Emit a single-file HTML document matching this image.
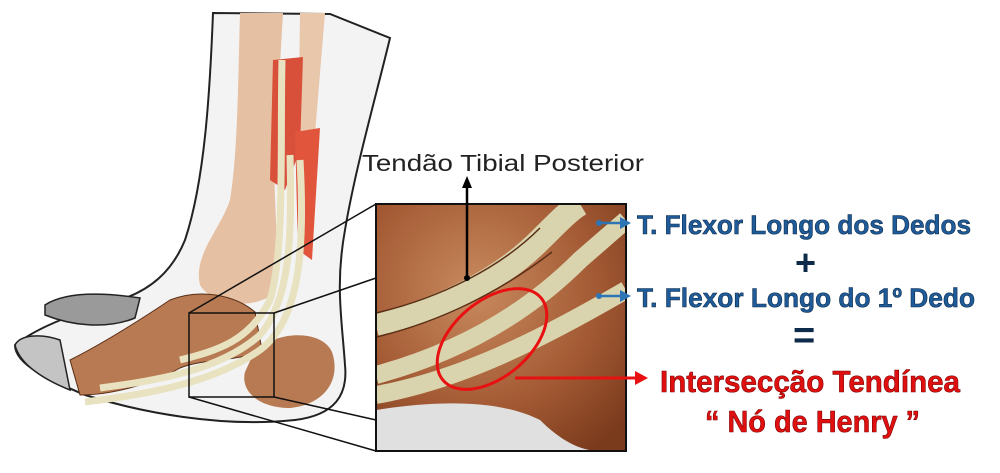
<!DOCTYPE html>
<html><head><meta charset="utf-8"><style>
html,body{margin:0;padding:0;background:#fff;}
svg{display:block}
text{font-family:"Liberation Sans",sans-serif;}
</style></head><body>
<svg width="1000" height="473" viewBox="0 0 1000 473" xmlns="http://www.w3.org/2000/svg">
<defs>
<radialGradient id="bg" cx="0.4" cy="0.35" r="0.8"><stop offset="0" stop-color="#c98a5e"/><stop offset="0.6" stop-color="#a35a34"/><stop offset="1" stop-color="#7a3a1c"/></radialGradient>
<clipPath id="ib"><rect x="376" y="204" width="250" height="247"/></clipPath>
</defs>
<!-- leg outline -->
<path d="M213,13 C210,90 205,180 185,240 C172,272 150,290 120,300 C80,312 40,325 15,345 C15,365 50,380 85,395 C140,412 220,428 295,420 C335,415 348,395 345,365 C342,320 335,285 345,230 C355,170 375,100 390,38 L330,14 Z" fill="#f3f3f3" stroke="#222" stroke-width="2"/>
<!-- toes -->
<path d="M45,305 C65,292 100,292 140,298 L135,318 C105,330 70,325 45,315 Z" fill="#9a9a9a" stroke="#222" stroke-width="1.5"/>
<path d="M15,345 C20,335 40,333 60,340 L70,390 C45,380 20,365 15,345 Z" fill="#c4c4c4" stroke="#222" stroke-width="1.5"/>
<!-- tibia -->
<path d="M240,13 L283,13 L275,150 C272,200 282,250 272,295 C250,310 212,305 200,285 C193,255 220,230 230,200 C238,150 238,80 240,13 Z" fill="#e6c0a2"/>
<path d="M300,13 L325,13 L312,170 L298,170 Z" fill="#e9c7ab"/>
<!-- foot bones -->
<path d="M70,360 C100,345 140,320 170,300 C200,288 235,295 255,312 L262,350 C240,362 205,358 180,368 C150,385 110,395 80,395 Z" fill="#b87a52" stroke="#5a2e16" stroke-width="1"/>
<path d="M255,350 C280,330 322,330 332,352 C342,382 322,405 290,408 C260,408 240,392 245,372 Z" fill="#b87a52"/>
<!-- muscles -->
<path d="M273,60 L303,57 L300,150 L285,190 L270,180 Z" fill="#d9503a"/>
<path d="M295,132 L320,128 L312,260 L298,250 Z" fill="#e0553c"/>
<!-- tendons -->
<g fill="none" stroke="#e8e2c0" stroke-width="7">
<path d="M282,60 C280,150 285,250 270,300 C250,340 220,350 180,360"/>
<path d="M290,155 C292,240 290,300 260,335 C220,370 160,380 100,388"/>
<path d="M300,160 C305,250 300,320 260,350 C210,385 140,395 85,402"/>
</g>
<!-- zoom box -->
<rect x="189" y="313" width="85" height="84" fill="none" stroke="#111" stroke-width="1.5"/>
<g stroke="#111" stroke-width="1.5">
<line x1="189" y1="313" x2="376" y2="204"/>
<line x1="274" y1="313" x2="376" y2="278"/>
<line x1="189" y1="397" x2="376" y2="451"/>
<line x1="274" y1="397" x2="376" y2="420"/>
</g>
<!-- inset -->
<g clip-path="url(#ib)">
<rect x="376" y="204" width="250" height="247" fill="url(#bg)"/>
<path d="M376,410 C440,400 500,400 540,420 C560,440 580,451 600,451 L376,451 Z" fill="#e0e0e0"/>
<g fill="none" stroke="#d9d4ad" stroke-width="24">
<path d="M376,325 C440,310 500,280 540,240 C560,220 570,210 580,204"/>
</g>
<g fill="none" stroke="#d9d4ad" stroke-width="18">
<path d="M376,375 C450,355 520,320 580,260 L626,220"/>
<path d="M376,395 C460,380 540,340 626,290"/>
</g>
<g fill="none" stroke="#5a2e16" stroke-width="1.5">
<path d="M376,313 C440,298 500,268 540,228"/>
<path d="M376,337 C440,322 500,292 552,252"/>
</g>
</g>
<rect x="376" y="204" width="250" height="247" fill="none" stroke="#111" stroke-width="2"/>
<!-- arrows -->
<line x1="467" y1="278" x2="467" y2="186" stroke="#000" stroke-width="2.5"/>
<polygon points="467,176 462,188 472,188" fill="#000"/>
<circle cx="467" cy="278" r="3" fill="#000"/>
<g stroke="#2e75b6" stroke-width="2.5"><line x1="599" y1="223" x2="622" y2="223"/><line x1="599" y1="296" x2="622" y2="296"/></g>
<polygon points="631,223 620,217 620,229" fill="#2e75b6"/><polygon points="631,296 620,290 620,302" fill="#2e75b6"/>
<circle cx="599" cy="223" r="3" fill="#2e75b6"/><circle cx="599" cy="296" r="3" fill="#2e75b6"/>
<ellipse cx="492" cy="339" rx="64" ry="38" transform="rotate(-40 492 339)" fill="none" stroke="#e81010" stroke-width="3"/>
<line x1="515" y1="378" x2="636" y2="378" stroke="#e81010" stroke-width="3"/>
<polygon points="648,378 635,371 635,385" fill="#e81010"/>
<!-- texts -->
<text x="362" y="171" font-size="23" fill="#222" textLength="282" lengthAdjust="spacingAndGlyphs">Tendão Tibial Posterior</text>
<g font-size="27" font-weight="bold" fill="#1e5b98" stroke="#0d2a4a" stroke-width="0.6">
<text x="637" y="234" textLength="334" lengthAdjust="spacingAndGlyphs">T. Flexor Longo dos Dedos</text>
<text x="637" y="307" textLength="338" lengthAdjust="spacingAndGlyphs">T. Flexor Longo do 1º Dedo</text>
</g>
<text x="795" y="275" font-size="36" font-weight="bold" fill="#0d2a4a">+</text>
<text x="793" y="348" font-size="38" font-weight="bold" fill="#0d2a4a">=</text>
<g font-size="31" font-weight="bold" fill="#e01010" stroke="#7a0000" stroke-width="0.6">
<text x="660" y="392" textLength="300" lengthAdjust="spacingAndGlyphs">Intersecção Tendínea</text>
<text x="705" y="432" textLength="215" lengthAdjust="spacingAndGlyphs">“ Nó de Henry ”</text>
</g>
</svg>
</body></html>
